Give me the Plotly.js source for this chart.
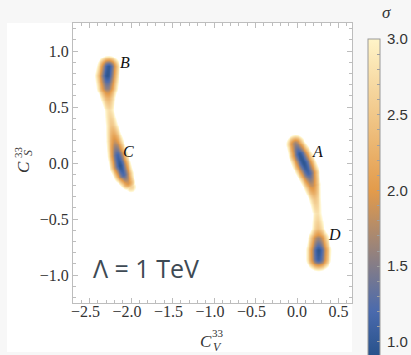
<!DOCTYPE html>
<html><head><meta charset="utf-8">
<script src="https://cdn.plot.ly/plotly-3.0.1.min.js"></script>
<style>html,body{margin:0;padding:0;background:#f7f7f7;}#chart{width:411px;height:355px;}</style>
</head><body><div id="chart"></div>
<script>
// Valley spines: position, minimum sigma along the spine, width
const bcX = [-2.275, -2.29, -2.29, -2.28, -2.265, -2.235, -2.20, -2.165, -2.135, -2.095, -2.045, -2.005];
const bcY = [0.86, 0.78, 0.68, 0.58, 0.47, 0.34, 0.20, 0.07, -0.02, -0.10, -0.17, -0.21];
const bcSigma = [1.0, 0.95, 1.5, 2.3, 2.75, 2.5, 1.9, 1.15, 0.95, 1.2, 1.9, 2.6];
const bcWidth = [0.046, 0.048, 0.046, 0.040, 0.034, 0.036, 0.040, 0.042, 0.044, 0.041, 0.036, 0.034];

const adX = [-0.02, 0.03, 0.08, 0.135, 0.175, 0.215, 0.24, 0.25, 0.255, 0.258, 0.256];
const adY = [0.17, 0.08, 0.0, -0.09, -0.19, -0.32, -0.45, -0.58, -0.68, -0.78, -0.85];
const adSigma = [1.6, 1.0, 0.95, 1.15, 1.8, 2.5, 2.8, 2.5, 1.6, 0.95, 1.05];
const adWidth = [0.041, 0.046, 0.048, 0.046, 0.041, 0.036, 0.034, 0.038, 0.046, 0.050, 0.050];

const labelText = ['A', 'B', 'C', 'D'];
const labelX = [0.253, -2.07, -2.036, 0.458];
const labelY = [0.10, 0.90, 0.10, -0.64];

const xRange = [-2.7, 0.663];
const yRange = [-1.25, 1.25];
const xTickVals = [-2.5, -2.0, -1.5, -1.0, -0.5, 0.0, 0.5];
const yTickVals = [-1.0, -0.5, 0.0, 0.5, 1.0];
const cbTickVals = [1.0, 1.5, 2.0, 2.5, 3.0];

const sigmaStops = [0.9, 1.2, 2.0, 3.0];
const sigmaColors = ['#27518a', '#4a6aad', '#e39b4b', '#fff4c8'];
const sigmaMin = 0.9, sigmaMax = 3.0, fadeMax = 3.25;

const yMetric = 1.35; // screen aspect of the plot frame

function spineSigma(x, y, X, Y, S, W) {
  let best = Infinity;
  const px = x, py = y * yMetric;
  for (let i = 0; i < X.length - 1; i++) {
    const ax = X[i], ay = Y[i] * yMetric, bx = X[i + 1], by = Y[i + 1] * yMetric;
    const dx = bx - ax, dy = by - ay;
    let t = ((px - ax) * dx + (py - ay) * dy) / (dx * dx + dy * dy);
    t = Math.max(0, Math.min(1, t));
    const d = Math.hypot(px - (ax + t * dx), py - (ay + t * dy));
    const s0 = S[i] + t * (S[i + 1] - S[i]);
    const w = W[i] + t * (W[i + 1] - W[i]);
    const s = Math.sqrt(s0 * s0 + (d / w) * (d / w));
    if (s < best) best = s;
  }
  return best;
}

const gx = [], gy = [];
for (let i = 0; i <= 337; i++) gx.push(xRange[0] + i * 0.01);
for (let j = 0; j <= 312; j++) gy.push(yRange[0] + j * 0.008);
const z = gy.map(y => gx.map(x => Math.min(4,
  spineSigma(x, y, bcX, bcY, bcSigma, bcWidth),
  spineSigma(x, y, adX, adY, adSigma, adWidth))));

function scaleFor(lo, hi, withFade) {
  const cs = sigmaStops.map((s, i) => [(s - lo) / (hi - lo), sigmaColors[i]]);
  if (withFade) cs.push([1, '#ffffff']);
  return cs;
}

const serif = 'Liberation Serif';
const tickColor = '#bdbdbd';
const NEG_PAD = '\u2002';
function fmt(v) { return v < 0 ? '\u2212' + Math.abs(v).toFixed(1) : v.toFixed(1); }
function axisCommon(r, vals, padNeg, standoff) {
  return {
    range: r, showgrid: false, zeroline: false, showline: true, mirror: 'allticks',
    linecolor: tickColor, linewidth: 1, ticks: 'inside', ticklen: 5, tickcolor: tickColor,
    tickmode: 'array', tickvals: vals, ticktext: vals.map(v => fmt(v) + (padNeg && v < 0 ? NEG_PAD : '')),
    ticklabelstandoff: standoff,
    minor: {ticks: 'inside', dtick: 0.1, tick0: 0, ticklen: 3, tickcolor: tickColor},
    tickfont: {family: serif, size: 16, color: '#333'}, fixedrange: true
  };
}

const M = {l: 73, r: 59, t: 23, b: 52, autoexpand: false};
const PW = 411 - M.l - M.r, PH = 355 - M.t - M.b;
const px2x = p => (p - M.l) / PW;
const py2y = p => (355 - M.b - p) / PH;

const annotations = labelText.map((t, i) => ({
  x: labelX[i], y: labelY[i], xref: 'x', yref: 'y', text: '<i>' + t + '</i>', showarrow: false,
  font: {family: serif, size: 16, color: '#111'}, xanchor: 'center', yanchor: 'middle'
}));
annotations.push({x: -1.82, y: -0.94, xref: 'x', yref: 'y', text: 'Λ = 1 TeV', showarrow: false,
  font: {family: 'Open Sans', size: 25, color: '#3e4a54'}, xanchor: 'center', yanchor: 'middle'});
// x-axis title C_V^33
annotations.push({x: px2x(206), y: py2y(341), xref: 'paper', yref: 'paper', text: '<i>C</i>', showarrow: false,
  font: {family: serif, size: 17, color: '#333'}, xanchor: 'center', yanchor: 'middle'});
annotations.push({x: px2x(218), y: py2y(333), xref: 'paper', yref: 'paper', text: '33', showarrow: false,
  font: {family: serif, size: 11, color: '#333'}, xanchor: 'center', yanchor: 'middle'});
annotations.push({x: px2x(217), y: py2y(347), xref: 'paper', yref: 'paper', text: '<i>V</i>', showarrow: false,
  font: {family: serif, size: 12, color: '#333'}, xanchor: 'center', yanchor: 'middle'});
// y-axis title C_S^33
annotations.push({x: px2x(23), y: py2y(167), xref: 'paper', yref: 'paper', text: '<i>C</i>', showarrow: false, textangle: -90,
  font: {family: serif, size: 17, color: '#333'}, xanchor: 'center', yanchor: 'middle'});
annotations.push({x: px2x(18), y: py2y(152), xref: 'paper', yref: 'paper', text: '33', showarrow: false, textangle: -90,
  font: {family: serif, size: 11, color: '#333'}, xanchor: 'center', yanchor: 'middle'});
annotations.push({x: px2x(28), y: py2y(153), xref: 'paper', yref: 'paper', text: '<i>S</i>', showarrow: false, textangle: -90,
  font: {family: serif, size: 12, color: '#333'}, xanchor: 'center', yanchor: 'middle'});
// colorbar title
annotations.push({x: px2x(386), y: py2y(13), xref: 'paper', yref: 'paper', text: '<i>σ</i>', showarrow: false,
  font: {family: serif, size: 17, color: '#333'}, xanchor: 'center', yanchor: 'middle'});

const cbMinorVals = [];
for (let v = 10; v <= 30; v++) cbMinorVals.push(v / 10);
const cbText = cbMinorVals.map(v => cbTickVals.some(t => Math.abs(t - v) < 1e-9) ? '\u2009' + v.toFixed(1) : '');

const data = [
  {type: 'heatmap', x: gx, y: gy, z: z, zmin: sigmaMin, zmax: fadeMax,
   colorscale: scaleFor(sigmaMin, fadeMax, true), showscale: false, zsmooth: 'best', hoverinfo: 'skip'},
  {type: 'scatter', mode: 'markers', x: [null], y: [null], hoverinfo: 'skip', showlegend: false,
   marker: {color: [sigmaMin], cmin: sigmaMin, cmax: sigmaMax, colorscale: scaleFor(sigmaMin, sigmaMax, false),
     showscale: true,
     colorbar: {x: px2x(368), xanchor: 'left', xpad: 0, y: py2y(39), yanchor: 'top', ypad: 0,
       lenmode: 'pixels', len: 318, thickness: 12, outlinewidth: 1, outlinecolor: '#9a9a9a',
       tickmode: 'array', tickvals: cbMinorVals, ticktext: cbText, ticks: 'inside', ticklen: 3, tickcolor: '#a0a0a0',
       tickfont: {family: 'Liberation Sans', size: 15, color: '#333'}}}}
];

const layout = {
  width: 411, height: 355, margin: M, paper_bgcolor: '#f7f7f7', plot_bgcolor: '#ffffff',
  xaxis: axisCommon(xRange, xTickVals, true, -6), yaxis: axisCommon(yRange, yTickVals, false, 0), showlegend: false,
  shapes: [{type: 'rect', xref: 'paper', yref: 'paper', x0: px2x(7), x1: 1, y0: py2y(352), y1: 1,
    fillcolor: '#ffffff', line: {width: 0}, layer: 'below'}],
  annotations: annotations
};

Plotly.newPlot('chart', data, layout, {displayModeBar: false, staticPlot: true});
</script></body></html>
